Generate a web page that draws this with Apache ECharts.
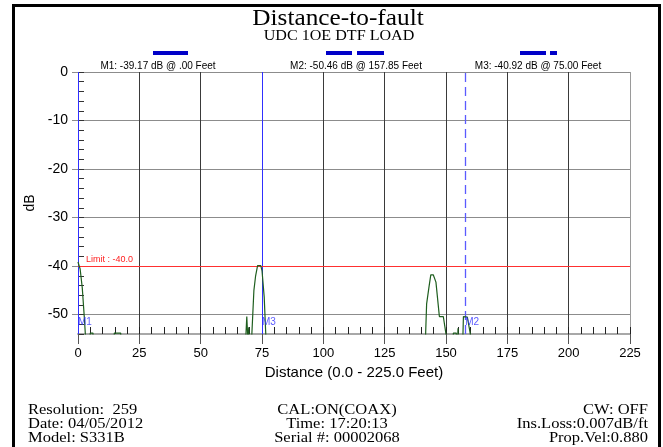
<!DOCTYPE html>
<html>
<head>
<meta charset="utf-8">
<title>Distance-to-fault</title>
<style>
  html, body { margin: 0; padding: 0; background: #ffffff; }
  #chart { width: 663px; height: 447px; }
</style>
<script src="https://cdn.jsdelivr.net/npm/echarts@6/dist/echarts.min.js"></script>
</head>
<body>
<div id="chart"></div>
<script>
// DTF trace: distance (feet) and return loss (dB); values under the floor are clipped by the grid
const traceFeet = [0, 0.87, 1.74, 2.6, 3.48, 4.35, 4.9, 5.0, 6.1, 6.2, 6.96,
  14.5, 14.8, 17.4, 17.7, 18.3,
  67.9, 68.8, 69.3, 69.6, 70.0, 70.5, 71.7, 72.4, 73.2, 74.5, 75.0, 75.9, 76.7, 77.5,
  141.3, 142.1, 143.1, 143.8, 144.8, 145.9, 147.3, 148.9, 150.6, 151.5,
  152.6, 153.0, 154.2, 154.5, 154.9, 155.3,
  156.6, 157.1, 157.85, 158.7, 160.6, 161.5, 225];
const traceDb = [-39.17, -40.6, -44.5, -50.8, -58, -60, -60, -53.8, -53.8, -60, -60,
  -60, -53.8, -53.8, -60, -60,
  -60, -50.4, -56, -52.6, -60, -58, -45, -42, -39.9, -39.9, -40.92, -46.4, -56, -60,
  -60, -47.8, -44.2, -41.8, -41.8, -43.3, -50.4, -50.4, -56, -60,
  -60, -53.8, -53.8, -60, -52.8, -60,
  -60, -50.4, -50.46, -50.5, -56, -60, -60];

// markers
const markerNames = ['M1', 'M2', 'M3'];
const markerFeet = [0, 157.85, 75.0];
const markerDb = [-39.17, -50.46, -40.92];
const markerDashed = [false, true, false];
const markerTagDb = -51.6;

// limit line
const limitDb = -40.0;

// axis ranges
const xMin = 0, xMax = 225, xStep = 25, xMinorStep = 5;
const yMin = -54, yMax = 0, yMinorStep = 2;

// header / footer text
const titleText = 'Distance-to-fault';
const subtitleText = 'UDC 1OE DTF LOAD';
const footerLeft = ['Resolution:  259', 'Date: 04/05/2012', 'Model: S331B'];
const footerCenter = ['CAL:ON(COAX)', 'Time: 17:20:13', 'Serial #: 00002068'];
const footerRight = ['CW: OFF', 'Ins.Loss:0.007dB/ft', 'Prop.Vel:0.880'];

const SANS = '"Liberation Sans", Arial, sans-serif';
const SERIF = '"Liberation Serif", "Times New Roman", serif';
const MARKER_BLUE = '#3030ff';

function fmtFeet(v) {
  return v.toFixed(2).replace(/^0\./, '.');
}
function markerReadout(i) {
  return markerNames[i] + ': ' + markerDb[i].toFixed(2) + ' dB @ ' + fmtFeet(markerFeet[i]) + ' Feet';
}

function serifText(x, y, text, size, align, sx) {
  return {
    type: 'text', x: x, y: y, scaleX: sx, silent: true,
    style: { text: text, font: size + 'px ' + SERIF, fill: '#000', textAlign: align, textVerticalAlign: 'middle' }
  };
}

const chart = echarts.init(document.getElementById('chart'), null, { renderer: 'canvas' });

const xLineColors = [];
for (let v = xMin; v <= xMax; v += xStep) {
  xLineColors.push(v === xMax ? '#9a9a9a' : '#3a3a3a');
}

const graphics = [
  { type: 'rect', silent: true, shape: { x: 13.5, y: 5.5, width: 646, height: 500 },
    style: { fill: 'none', stroke: '#000', lineWidth: 3 } },
  serifText(338, 19, titleText, 23, 'center', 1.1),
  serifText(339, 36, subtitleText, 14, 'center', 1.15)
];

// status bars over the readouts
const statusBars = [[153, 35], [326, 26], [357, 27], [520, 26], [550, 7]];
statusBars.forEach(function (b) {
  graphics.push({ type: 'rect', silent: true, shape: { x: b[0], y: 51, width: b[1], height: 4 },
    style: { fill: '#0000c8' } });
});

const readoutX = [158, 356, 538];
for (let i = 0; i < markerNames.length; i++) {
  graphics.push({
    type: 'text', x: readoutX[i], y: 66, silent: true,
    style: { text: markerReadout(i), font: '10px ' + SANS, fill: '#000', textAlign: 'center', textVerticalAlign: 'middle' }
  });
}

for (let r = 0; r < 3; r++) {
  const y = 410 + r * 14;
  graphics.push(serifText(28, y, footerLeft[r], 14, 'left', 1.18));
  graphics.push(serifText(337, y, footerCenter[r], 14, 'center', 1.18));
  graphics.push(serifText(648, y, footerRight[r], 14, 'right', 1.18));
}

const markLines = markerFeet.map(function (ft, i) {
  return {
    xAxis: ft,
    lineStyle: markerDashed[i]
      ? { color: '#5a5aff', width: 1.3, type: [9, 5] }
      : { color: MARKER_BLUE, width: 1, type: 'solid' },
    label: { show: false }
  };
});
markLines.push({
  yAxis: limitDb,
  lineStyle: { color: '#ff3030', width: 1, type: 'solid' },
  label: { show: true, position: 'insideStartTop', formatter: 'Limit : ' + limitDb.toFixed(1),
    color: '#ff2020', fontFamily: SANS, fontSize: 9, distance: [8, 2] }
});

const option = {
  animation: false,
  backgroundColor: '#ffffff',
  grid: { left: 78, right: 33, top: 72, bottom: 113 },
  graphic: graphics,
  xAxis: [
    {
      type: 'value', min: xMin, max: xMax, interval: xStep, position: 'bottom',
      name: 'Distance (0.0 - 225.0 Feet)', nameLocation: 'middle', nameGap: 26,
      nameTextStyle: { fontFamily: SANS, fontSize: 15, color: '#000' },
      axisLine: { show: true, onZero: false, lineStyle: { color: '#a8a8a8', width: 2 } },
      axisTick: { show: true, length: 10, lineStyle: { color: '#555', width: 1 } },
      axisLabel: { margin: 13, fontFamily: SANS, fontSize: 13, color: '#000' },
      splitLine: { show: true, lineStyle: { color: xLineColors, width: 1 } }
    },
    {
      type: 'value', min: xMin, max: xMax, interval: xMinorStep, position: 'bottom',
      axisLine: { show: false, onZero: false },
      axisTick: { show: true, inside: true, length: 7, lineStyle: { color: '#222', width: 1 } },
      axisLabel: { show: false },
      splitLine: { show: false }
    }
  ],
  yAxis: [
    {
      type: 'value', min: yMin, max: yMax, splitNumber: 5, position: 'left',
      name: 'dB', nameLocation: 'middle', nameGap: 41, nameRotate: 90,
      nameTextStyle: { fontFamily: SANS, fontSize: 14, color: '#000' },
      axisLine: { show: false, onZero: false },
      axisTick: { show: true, length: 6, lineStyle: { color: '#8c8c8c', width: 1 } },
      axisLabel: { margin: 10, fontFamily: SANS, fontSize: 14, color: '#000', showMinLabel: false },
      splitLine: { show: true, lineStyle: { color: '#8c8c8c', width: 1 } }
    },
    {
      type: 'value', min: yMin, max: yMax, interval: yMinorStep, position: 'left',
      axisLine: { show: false, onZero: false },
      axisTick: { show: true, inside: true, length: 6, lineStyle: { color: '#333', width: 1 } },
      axisLabel: { show: false },
      splitLine: { show: false }
    }
  ],
  series: [
    {
      name: 'DTF', type: 'line', xAxisIndex: 0, yAxisIndex: 0,
      data: traceFeet.map(function (ft, i) { return [ft, traceDb[i]]; }),
      showSymbol: false, symbol: 'none', clip: true, z: 4,
      lineStyle: { color: '#1e5e1e', width: 1.2 },
      markLine: { silent: true, symbol: 'none', animation: false, data: markLines, z: 3 }
    },
    {
      name: 'Marker tags', type: 'scatter', xAxisIndex: 0, yAxisIndex: 0,
      symbolSize: 0, silent: true, z: 5,
      data: markerFeet.map(function (ft, i) { return { name: markerNames[i], value: [ft, markerTagDb] }; }),
      label: { show: true, position: 'right', distance: 0, formatter: '{b}',
        color: MARKER_BLUE, fontFamily: SANS, fontSize: 10 }
    }
  ]
};

chart.setOption(option);
</script>
</body>
</html>
